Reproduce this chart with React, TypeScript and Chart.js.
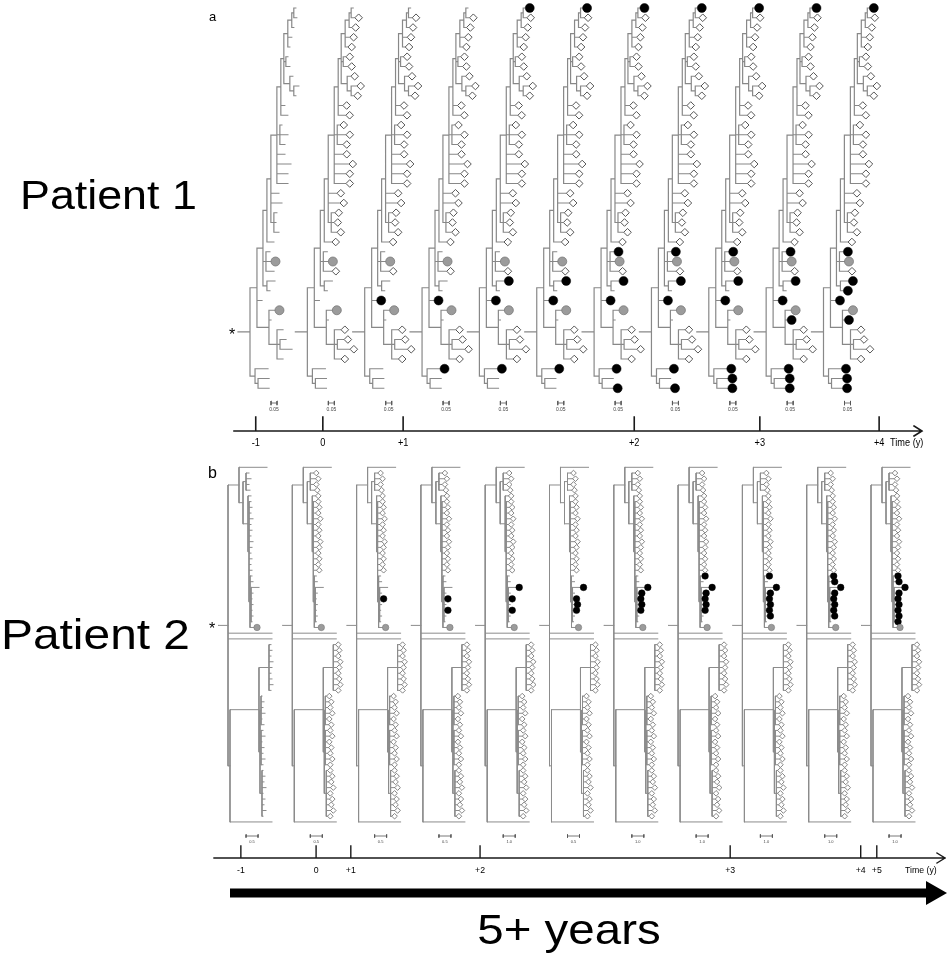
import React, { useEffect, useRef } from 'react';
import { Chart, registerables } from 'chart.js';

Chart.register(...registerables);

// ================= DATA =================
// Patient 1 phylogeny (Newick). Leaf "aN" = leaf row N (top to bottom); branch lengths in substitutions/site.
const P1_N6 = '(((a0:0.017,a1:0.025):0.017,a2:0.017):0.033,a3:0.033,a4:0.017):0.033';
const P1_N5 = `(${P1_N6},(a5:0.017,a6:0.033):0.017,(a7:0.025,(a8:0.042,a9:0.017):0.033):0.05):0.025`;
const P1_N4 = `(${P1_N5},a10:0.033,a11:0.058):0.033`;
const P1_N3 = `(${P1_N4},(a12:0.017,a13:0.067,a14:0.042):0.025,a15:0.067,a16:0.117,a17:0.092,a18:0.092):0.05`;
const P1_N2 = `(${P1_N3},a19:0.067,a20:0.092,(a21:0.025,a22:0.017,a23:0.042):0.025):0.033`;
const P1_U1 = `((${P1_N2},a24:0.058):0.033,(a25:0.033,a26:0.042,a27:0.067):0.025,(a28:0.067,a29:0.025):0.033):0.05`;
const P1_U2 = '(a31:0.05,a32:0.017,(a33:0.05,(a34:0.05,a35:0.1):0.025,a36:0.05):0.067):0.1';
const P1_L = '(a37:0.108,(a38:0.092,a39:0.092):0.025):0.042';
const P1_TREE = `((${P1_U1},a30:0.042,${P1_U2}):0.058,${P1_L});`;

// Patient 1 samples: grey = sampled at -1 (shown in all trees), white = sampled at 0 (shown from tree 1),
// black = new sequences, shown from the tree index given in P1_BLACK_FROM
const P1_GREY = [26, 31];
const P1_WHITE = [1, 2, 3, 4, 5, 6, 7, 8, 9, 10, 11, 12, 13, 14, 15, 16, 17, 18, 19, 20, 21, 22, 23, 24, 27, 33, 34, 35, 36];
const P1_BLACK = [0, 25, 28, 29, 30, 32, 37, 38, 39];
const P1_BLACK_FROM = [4, 6, 4, 10, 2, 9, 3, 8, 6];

// Patient 2 phylogeny
const P2_A6 = '(b19:0.083,b20:0.125,(b21:0.333,b22:0.083,b23:0.042,b24:0.083,b25:0.042,b26:0.083,b27:0.042):0.042,b28:0.167):0.042';
const P2_A5 = `(b6:0.083,b7:0.125,b8:0.083,b9:0.167,b10:0.083,b11:0.125,b12:0.083,b13:0.167,b14:0.125,b15:0.083,b16:0.125,b17:0.083,b18:0.125,${P2_A6}):0.042`;
const P2_A = `(b0:1.167,((b1:0.125,b2:0.208,b3:0.125,b4:0.167):0.125,(b5:0.125,${P2_A5}):0.208):0.167):0.458`;
const P2_B1 = '(b31:0.083,b32:0.125,b33:0.083,b34:0.167,b35:0.125,b36:0.083,b37:0.125,b38:0.167,b39:0.083):0.417';
const P2_B2 = '((b40:0.042,b41:0.125,b42:0.083,b43:0.167,b44:0.042,b45:0.125):0.042,(b46:0.083,b47:0.167,b48:0.042,b49:0.125,b50:0.083,b51:0.167,b52:0.083):0.042,(b53:0.042,b54:0.125,b55:0.083,b56:0.167,b57:0.042,b58:0.125,b59:0.083,b60:0.167,b61:0.042):0.083):0.042';
const P2_TREE = `(${P2_A},b29:1.833,b30:1.833,((${P2_B1},${P2_B2}):1.208,b62:1.75):0.083);`;

const P2_GREY = [28];
const P2_WHITE = [1, 2, 3, 4, 5, 6, 7, 8, 9, 10, 11, 12, 13, 14, 15, 16, 17, 18,
  31, 32, 33, 34, 35, 36, 37, 38, 39, 40, 41, 42, 43, 44, 45, 46, 47, 48, 49, 50,
  51, 52, 53, 54, 55, 56, 57, 58, 59, 60, 61];
const P2_BLACK = [19, 20, 21, 22, 23, 24, 25, 26, 27];
const P2_BLACK_FROM = [7, 9, 4, 6, 2, 5, 3, 8, 10];

const N_TREES = 11;

// Time axes: label, and where it falls along the row of trees (in tree-index units)
const AXIS_A_LABELS = ['-1', '0', '+1', '+2', '+3', '+4'];
const AXIS_A_AT = [0.1, 1.27, 2.67, 6.7, 8.89, 10.97];
const AXIS_B_LABELS = ['-1', '0', '+1', '+2', '+3', '+4', '+5'];
const AXIS_B_AT = [0.2, 1.37, 1.91, 3.92, 7.81, 9.84, 10.09];

const SCALE_A = 0.05;
const SCALE_A_LABELS = ['0.05', '0.05', '0.05', '0.05', '0.05', '0.05', '0.05', '0.05', '0.05', '0.05', '0.05'];
const SCALE_B = 0.5;
const SCALE_B_LABELS = ['0.5', '0.5', '0.5', '0.5', '1.0', '0.5', '1.0', '1.0', '1.0', '1.0', '1.0'];

// ================= HELPERS =================
const W = 948;
const H = 955;

type Pt = { x: number; y: number };
type TNode = { name: string; len: number; children: TNode[]; x: number; y: number };
const GAP: Pt = { x: NaN, y: NaN };

function parseNewick(src: string): TNode {
  let i = 0;
  const node = (): TNode => {
    const n: TNode = { name: '', len: 0, children: [], x: 0, y: 0 };
    if (src[i] === '(') {
      i++;
      n.children.push(node());
      while (src[i] === ',') {
        i++;
        n.children.push(node());
      }
      i++; // ')'
    }
    let name = '';
    while (i < src.length && !',():;'.includes(src[i])) name += src[i++];
    n.name = name.trim();
    if (src[i] === ':') {
      i++;
      let num = '';
      while (i < src.length && !',();'.includes(src[i])) num += src[i++];
      n.len = parseFloat(num);
    }
    return n;
  };
  return node();
}

function layout(n: TNode, depth: number, pxPerSub: number, slotY: (i: number) => number) {
  n.x = depth * pxPerSub;
  if (!n.children.length) {
    n.y = slotY(parseInt(n.name.slice(1), 10));
  } else {
    n.children.forEach((c) => layout(c, depth + c.len, pxPerSub, slotY));
    n.y = (n.children[0].y + n.children[n.children.length - 1].y) / 2;
  }
}

function collectSegs(n: TNode, out: Pt[]) {
  if (!n.children.length) return;
  const first = n.children[0];
  const last = n.children[n.children.length - 1];
  out.push({ x: n.x, y: first.y }, { x: n.x, y: last.y }, GAP);
  n.children.forEach((c) => {
    out.push({ x: n.x, y: c.y }, { x: c.x, y: c.y }, GAP);
    collectSegs(c, out);
  });
}

function collectLeaves(n: TNode, m: Map<number, TNode>) {
  if (!n.children.length) m.set(parseInt(n.name.slice(1), 10), n);
  n.children.forEach((c) => collectLeaves(c, m));
}

interface PanelCfg {
  tree: string;
  rootX0: number;
  pitch: number;
  slot0: number;
  slotDy: number;
  pxPerSub: number;
  stem: number;
  white: number[];
  grey: number[];
  black: number[];
  blackFrom: number[];
  markerDx: number;
  scaleSub: number;
  scaleY: number;
  scaleDx: number;
  cap: number;
}

function buildPanel(c: PanelCfg) {
  const root = parseNewick(c.tree);
  layout(root, 0, c.pxPerSub, (i) => c.slot0 + c.slotDy * i);
  const rel: Pt[] = [];
  collectSegs(root, rel);
  const leaves = new Map<number, TNode>();
  collectLeaves(root, leaves);
  const lines: Pt[] = [];
  const white: Pt[] = [];
  const grey: Pt[] = [];
  const black: Pt[] = [];
  const scale: Pt[] = [];
  const scaleCenters: number[] = [];
  for (let k = 0; k < N_TREES; k++) {
    const ox = c.rootX0 + k * c.pitch;
    rel.forEach((p) => lines.push(isNaN(p.x) ? GAP : { x: p.x + ox, y: p.y }));
    lines.push({ x: ox - c.stem, y: root.y }, { x: ox, y: root.y }, GAP);
    const mk = (s: number): Pt => {
      const l = leaves.get(s)!;
      return { x: l.x + ox + c.markerDx, y: l.y };
    };
    if (k >= 1) c.white.forEach((s) => white.push(mk(s)));
    c.grey.forEach((s) => grey.push(mk(s)));
    c.black.forEach((s, j) => {
      if (k >= c.blackFrom[j]) black.push(mk(s));
    });
    const cx = ox + c.scaleDx;
    const w = c.scaleSub * c.pxPerSub;
    scaleCenters.push(cx);
    scale.push(
      { x: cx - w / 2, y: c.scaleY }, { x: cx + w / 2, y: c.scaleY }, GAP,
      { x: cx - w / 2, y: c.scaleY - c.cap }, { x: cx - w / 2, y: c.scaleY + c.cap }, GAP,
      { x: cx + w / 2, y: c.scaleY - c.cap }, { x: cx + w / 2, y: c.scaleY + c.cap }, GAP,
    );
  }
  return { lines, white, grey, black, scale, scaleCenters, rootY: root.y, rootX: c.rootX0 - c.stem };
}

const SANS = "'Liberation Sans', Arial, sans-serif";

export default function App() {
  const ref = useRef<HTMLCanvasElement | null>(null);

  useEffect(() => {
    const canvas = ref.current;
    if (!canvas) return;

    const A = { rootX0: 250, pitch: 57.35 };
    const B = { rootX0: 228, pitch: 64.3 };

    const pa = buildPanel({
      tree: P1_TREE, rootX0: A.rootX0, pitch: A.pitch, slot0: 8, slotDy: 9.75, pxPerSub: 120, stem: 12,
      white: P1_WHITE, grey: P1_GREY, black: P1_BLACK, blackFrom: P1_BLACK_FROM, markerDx: 4.5,
      scaleSub: SCALE_A, scaleY: 403, scaleDx: 24, cap: 2,
    });
    const pb = buildPanel({
      tree: P2_TREE, rootX0: B.rootX0, pitch: B.pitch, slot0: 467.3, slotDy: 5.72, pxPerSub: 24, stem: 10,
      white: P2_WHITE, grey: P2_GREY, black: P2_BLACK, blackFrom: P2_BLACK_FROM, markerDx: 3,
      scaleSub: SCALE_B, scaleY: 836, scaleDx: 24, cap: 1.5,
    });

    const axisA = { y: 431, x0: 234, x1: 922, tick: 14 };
    const axisB = { y: 858, x0: 214, x1: 945, tick: 12 };
    const tickXA = AXIS_A_AT.map((v) => A.rootX0 + v * A.pitch);
    const tickXB = AXIS_B_AT.map((v) => B.rootX0 + v * B.pitch);

    const axisPts = (ax: typeof axisA, ticks: number[]): Pt[] => {
      const pts: Pt[] = [{ x: ax.x0, y: ax.y }, { x: ax.x1, y: ax.y }, GAP,
        { x: ax.x1 - 8, y: ax.y - 5 }, { x: ax.x1, y: ax.y }, { x: ax.x1 - 8, y: ax.y + 5 }, GAP];
      ticks.forEach((t) => pts.push({ x: t, y: ax.y }, { x: t, y: ax.y - ax.tick }, GAP));
      return pts;
    };

    const arrowY = 893;
    const arrowTip = 947;
    const headR = 14;

    const lineDs = (data: Pt[], color: string, width: number, order = 2) => ({
      type: 'scatter' as const,
      data,
      showLine: true,
      spanGaps: false,
      borderColor: color,
      borderWidth: width,
      borderCapStyle: 'square' as const,
      pointRadius: 0,
      pointHoverRadius: 0,
      order,
    });
    const markDs = (data: Pt[], style: string, r: number, bg: string, bc: string, bw: number) => ({
      type: 'scatter' as const,
      data,
      showLine: false,
      pointStyle: style,
      pointRadius: r,
      pointHoverRadius: r,
      backgroundColor: bg,
      borderColor: bc,
      borderWidth: bw,
      order: 0,
    });

    const datasets: any[] = [
      markDs(pa.white, 'rectRot', 3.8, '#ffffff', '#555555', 1),
      markDs(pa.grey, 'circle', 4.5, '#9b9b9b', '#7a7a7a', 0.8),
      markDs(pa.black, 'circle', 4.5, '#000000', '#000000', 0.5),
      markDs(pb.white, 'rectRot', 2.8, '#ffffff', '#666666', 0.8),
      markDs(pb.grey, 'circle', 3.2, '#9b9b9b', '#7a7a7a', 0.6),
      markDs(pb.black, 'circle', 3.3, '#000000', '#000000', 0.5),
      lineDs(pa.lines, '#888888', 1.2),
      lineDs(pb.lines, '#8c8c8c', 1),
      lineDs(pa.scale, '#555555', 0.8),
      lineDs(pb.scale, '#555555', 0.8),
      lineDs(axisPts(axisA, tickXA), '#1a1a1a', 1.6, 1),
      lineDs(axisPts(axisB, tickXB), '#1a1a1a', 1.4, 1),
      { ...lineDs([{ x: 230, y: arrowY }, { x: arrowTip - headR * 1.4, y: arrowY }], '#000000', 9, 1), borderCapStyle: 'butt' },
      {
        ...markDs([{ x: arrowTip - headR, y: arrowY }], 'triangle', headR, '#000000', '#000000', 0),
        pointRotation: 90,
      },
    ];

    type TextItem = { t: string; x: number; y: number; size: number; align?: CanvasTextAlign; base?: CanvasTextBaseline; sx?: number; color?: string };
    const texts: TextItem[] = [
      { t: 'a', x: 209, y: 17, size: 13, base: 'middle' },
      { t: 'b', x: 208, y: 474, size: 16, base: 'middle' },
      { t: 'Patient 1', x: 20, y: 209, size: 40, base: 'alphabetic', sx: 1.12 },
      { t: 'Patient 2', x: 1, y: 649, size: 42, base: 'alphabetic', sx: 1.14 },
      { t: '5+ years', x: 569, y: 944, size: 42, align: 'center', base: 'alphabetic', sx: 1.13 },
      { t: 'Time (y)', x: 890, y: 443, size: 10, base: 'middle', sx: 0.92 },
      { t: 'Time (y)', x: 905, y: 870, size: 9.5, base: 'middle', sx: 0.92 },
      { t: '*', x: pa.rootX - 6, y: pa.rootY + 4, size: 16, align: 'center', base: 'middle' },
      { t: '*', x: pb.rootX - 6, y: pb.rootY + 4, size: 16, align: 'center', base: 'middle' },
    ];
    AXIS_A_LABELS.forEach((l, i) => texts.push({ t: l, x: tickXA[i], y: 443, size: 10, align: 'center', base: 'middle', sx: 0.92 }));
    AXIS_B_LABELS.forEach((l, i) => texts.push({ t: l, x: tickXB[i], y: 870, size: 9.5, align: 'center', base: 'middle', sx: 0.92 }));
    SCALE_A_LABELS.forEach((l, i) => texts.push({ t: l, x: pa.scaleCenters[i], y: 410, size: 5, align: 'center', base: 'middle', color: '#444' }));
    SCALE_B_LABELS.forEach((l, i) => texts.push({ t: l, x: pb.scaleCenters[i], y: 842, size: 4, align: 'center', base: 'middle', color: '#444' }));

    const textPlugin = {
      id: 'figureText',
      afterDatasetsDraw(chart: any) {
        const ctx: CanvasRenderingContext2D = chart.ctx;
        const xs = chart.scales.x;
        const ys = chart.scales.y;
        texts.forEach((it) => {
          ctx.save();
          ctx.fillStyle = it.color || '#000000';
          ctx.font = `${it.size}px ${SANS}`;
          ctx.textAlign = it.align || 'left';
          ctx.textBaseline = it.base || 'middle';
          ctx.translate(xs.getPixelForValue(it.x), ys.getPixelForValue(it.y));
          ctx.scale(it.sx || 1, 1);
          ctx.fillText(it.t, 0, 0);
          ctx.restore();
        });
      },
    };

    const chart = new Chart(canvas, {
      type: 'scatter',
      data: { datasets },
      options: {
        animation: false,
        responsive: false,
        devicePixelRatio: 1,
        events: [],
        layout: { padding: 0, autoPadding: false },
        plugins: { legend: { display: false }, tooltip: { enabled: false } },
        scales: {
          x: { type: 'linear', min: 0, max: W, display: false },
          y: { type: 'linear', min: 0, max: H, reverse: true, display: false },
        },
      },
      plugins: [textPlugin],
    } as any);

    return () => chart.destroy();
  }, []);

  return (
    <div style={{ position: 'fixed', left: 0, top: 0, width: W, height: H, background: '#ffffff' }}>
      <canvas ref={ref} width={W} height={H} style={{ width: W, height: H, display: 'block' }} />
    </div>
  );
}
